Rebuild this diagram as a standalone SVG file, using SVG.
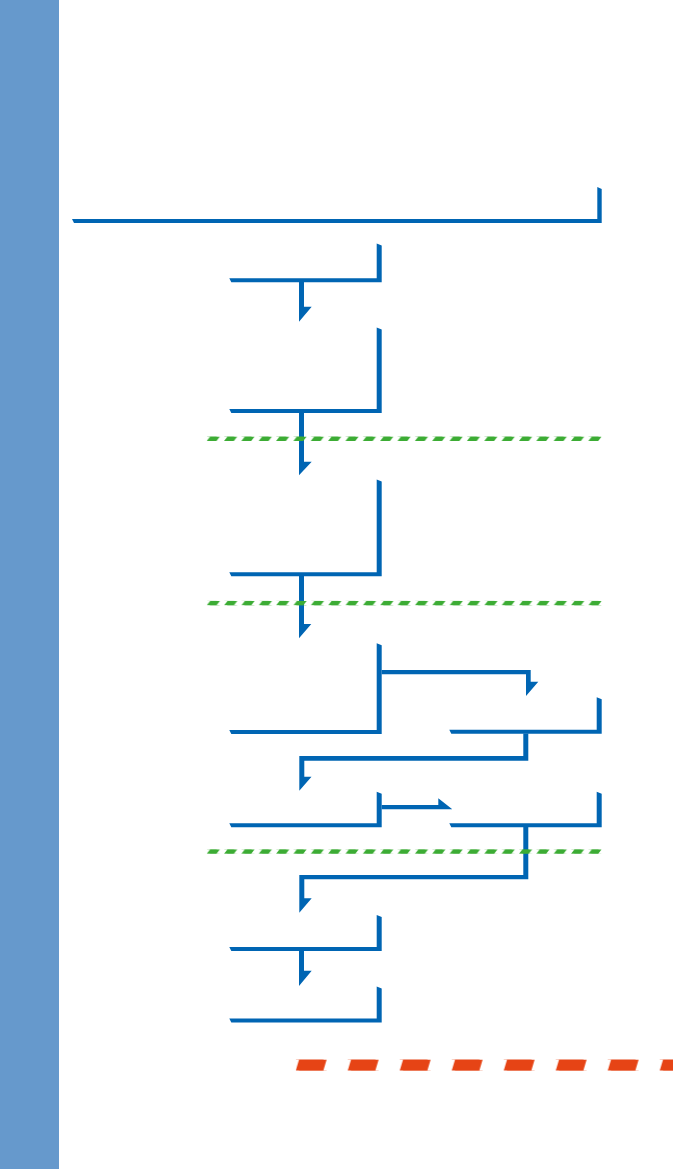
<svg xmlns="http://www.w3.org/2000/svg" width="673" height="1169" viewBox="0 0 673 1169">
  <style>
    .edge { fill: #0065b3; stroke: none; }
    .node { fill: #0065b3; stroke: none; }
    .sidebar { fill: #6699cc; }
  </style>
  <defs>
    <pattern id="gdash" patternUnits="userSpaceOnUse" x="0" y="0" width="17.35" height="4.5">
      <polygon points="0,4.5 9.8,4.5 13.3,0 3.5,0" fill="#3cac34"/>
    </pattern>
    <pattern id="odash" patternUnits="userSpaceOnUse" x="0" y="0" width="52" height="11.2">
      <polygon points="0,11.2 27.6,11.2 31,0 3.4,0" fill="#e64415"/>
    </pattern>
  </defs>

  <rect class="sidebar" x="0" y="0" width="59" height="1169"/>

  <g id="nodes">
    <g id="node1"><polygon class="node" points="72,219 597.3,219 597.3,187 601.7,189 601.7,223 74,223"/></g>
    <g id="node2"><polygon class="node" points="229.3,278.3 376.7,278.3 376.7,243.5 381.7,245.5 381.7,282.3 231.3,282.3"/></g>
    <g id="node3"><polygon class="node" points="229.3,409 376.7,409 376.7,327.5 381.7,329.5 381.7,413 231.3,413"/></g>
    <g id="node4"><polygon class="node" points="229.3,572.2 376.7,572.2 376.7,479.5 381.7,481.5 381.7,576.2 231.3,576.2"/></g>
    <g id="node5"><polygon class="node" points="229.3,730 376.7,730 376.7,643.3 381.7,645.3 381.7,734 231.3,734"/></g>
    <g id="node6"><polygon class="node" points="449.3,729.7 596.7,729.7 596.7,697.3 601.7,699.3 601.7,733.7 451.3,733.7"/></g>
    <g id="node7"><polygon class="node" points="229.3,823.3 376.7,823.3 376.7,791.7 381.7,793.7 381.7,827.3 231.3,827.3"/></g>
    <g id="node8"><polygon class="node" points="449.3,823.3 596.7,823.3 596.7,791.7 601.7,793.7 601.7,827.3 451.3,827.3"/></g>
    <g id="node9"><polygon class="node" points="229.3,947 376.7,947 376.7,915 381.7,917 381.7,951 231.3,951"/></g>
    <g id="node10"><polygon class="node" points="229.3,1018.5 376.7,1018.5 376.7,986.5 381.7,988.5 381.7,1022.5 231.3,1022.5"/></g>
  </g>

  <g id="connectors">
    <polygon class="edge" points="299,282 304,282 304,306.7 311.7,306.7 299,321.7"/>
    <polygon class="edge" points="299,412.5 304,412.5 304,461.7 311.7,461.7 299,475.3"/>
    <polygon class="edge" points="299,575.7 304,575.7 304,624 311.3,624 299,638.3"/>
    <polygon class="edge" points="381.7,670 530.7,670 530.7,681.7 538.3,681.7 526,696 526,674.3 381.7,674.3"/>
    <polygon class="edge" points="523.3,733.5 528.3,733.5 528.3,760.7 304.3,760.7 304.3,776.7 311.5,776.7 299.3,790.7 299.3,756 523.3,756"/>
    <polygon class="edge" points="381.7,805 438.3,805 438.3,798.3 452.3,809.3 381.7,809.3"/>
    <polygon class="edge" points="523.3,827 528.3,827 528.3,879.3 304.3,879.3 304.3,898.3 311.7,898.3 299.3,912.7 299.3,875 523.3,875"/>
    <polygon class="edge" points="299,950.7 304,950.7 304,970.7 311.7,970.7 299,986"/>
  </g>

  <g id="separators">
    <g transform="translate(206.7,436.5)"><rect x="0" y="0" width="395" height="4.5" fill="url(#gdash)"/></g>
    <g transform="translate(206.7,600.9)"><rect x="0" y="0" width="395" height="4.5" fill="url(#gdash)"/></g>
    <g transform="translate(206.7,849.3)"><rect x="0" y="0" width="395" height="4.5" fill="url(#gdash)"/></g>
    <g transform="translate(295.7,1059.5)"><rect x="0" y="0" width="378" height="11.2" fill="url(#odash)"/></g>
  </g>
</svg>
